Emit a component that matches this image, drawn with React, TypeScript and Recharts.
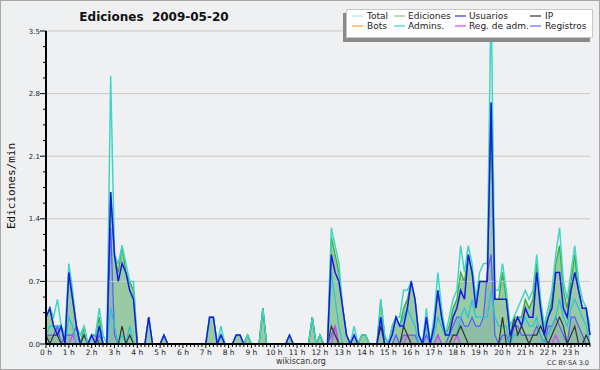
import React from 'react';
import { ComposedChart, Area, Line, XAxis, YAxis, ReferenceLine } from 'recharts';

// 10-minute bins, edits per minute (144 bins per day)
const TOTAL = [
  0.3, 0.4, 0.3, 0.5, 0.2, 0.1,
  0.9, 0.6, 0.2, 0.1, 0.2, 0.0,
  0.1, 0.1, 0.4, 0.1, 0.0, 3.0,
  1.0, 0.9, 1.1, 0.9, 0.7, 0.7,
  0.0, 0.0, 0.0, 0.3, 0.0, 0.0,
  0.0, 0.1, 0.0, 0.0, 0.0, 0.0,
  0.0, 0.0, 0.0, 0.0, 0.0, 0.0,
  0.0, 0.3, 0.3, 0.0, 0.2, 0.0,
  0.0, 0.0, 0.1, 0.1, 0.0, 0.1,
  0.0, 0.0, 0.0, 0.4, 0.0, 0.0,
  0.0, 0.0, 0.0, 0.0, 0.1, 0.0,
  0.0, 0.0, 0.0, 0.0, 0.3, 0.0,
  0.1, 0.0, 0.0, 1.3, 1.1, 0.9,
  0.4, 0.1, 0.0, 0.2, 0.0, 0.1,
  0.1, 0.0, 0.0, 0.0, 0.5, 0.1,
  0.0, 0.2, 0.3, 0.3, 0.6, 0.6,
  0.7, 0.5, 0.1, 0.0, 0.4, 0.0,
  0.3, 0.8, 0.4, 0.1, 0.3, 0.5,
  0.6, 1.1, 0.8, 1.1, 0.9, 0.5,
  0.8, 0.9, 0.9, 3.9, 0.6, 0.6,
  0.9, 0.6, 0.2, 0.3, 0.4, 0.5,
  0.6, 0.5, 0.6, 1.0, 0.5, 0.2,
  0.4, 0.6, 1.0, 1.3, 0.7, 0.5,
  0.8, 1.1, 0.7, 0.5, 0.4, 0.2,
];

const EDICIONES = [
  0.3, 0.4, 0.2, 0.2, 0.2, 0.0,
  0.8, 0.5, 0.2, 0.0, 0.2, 0.0,
  0.1, 0.1, 0.3, 0.0, 0.0, 1.7,
  1.0, 0.8, 1.1, 0.8, 0.7, 0.6,
  0.0, 0.0, 0.0, 0.3, 0.0, 0.0,
  0.0, 0.1, 0.0, 0.0, 0.0, 0.0,
  0.0, 0.0, 0.0, 0.0, 0.0, 0.0,
  0.0, 0.3, 0.3, 0.0, 0.1, 0.0,
  0.0, 0.0, 0.1, 0.1, 0.0, 0.1,
  0.0, 0.0, 0.0, 0.4, 0.0, 0.0,
  0.0, 0.0, 0.0, 0.0, 0.1, 0.0,
  0.0, 0.0, 0.0, 0.0, 0.3, 0.0,
  0.1, 0.0, 0.0, 1.2, 1.0, 0.8,
  0.4, 0.1, 0.0, 0.1, 0.0, 0.1,
  0.1, 0.0, 0.0, 0.0, 0.5, 0.1,
  0.0, 0.2, 0.3, 0.2, 0.4, 0.5,
  0.7, 0.5, 0.1, 0.0, 0.3, 0.0,
  0.2, 0.6, 0.3, 0.1, 0.2, 0.4,
  0.5, 0.8, 0.7, 1.0, 0.8, 0.5,
  0.7, 0.7, 0.7, 2.7, 0.5, 0.5,
  0.8, 0.5, 0.1, 0.3, 0.3, 0.3,
  0.5, 0.4, 0.5, 0.9, 0.4, 0.2,
  0.3, 0.5, 0.9, 1.1, 0.6, 0.4,
  0.7, 1.0, 0.6, 0.4, 0.4, 0.1,
];

const USUARIOS = [
  0.3, 0.4, 0.2, 0.1, 0.2, 0.0,
  0.8, 0.5, 0.2, 0.0, 0.0, 0.0,
  0.1, 0.0, 0.2, 0.0, 0.0, 1.7,
  1.0, 0.7, 0.9, 0.8, 0.6, 0.5,
  0.0, 0.0, 0.0, 0.3, 0.0, 0.0,
  0.0, 0.1, 0.0, 0.0, 0.0, 0.0,
  0.0, 0.0, 0.0, 0.0, 0.0, 0.0,
  0.0, 0.3, 0.3, 0.0, 0.1, 0.0,
  0.0, 0.0, 0.1, 0.1, 0.0, 0.0,
  0.0, 0.0, 0.0, 0.0, 0.0, 0.0,
  0.0, 0.0, 0.0, 0.0, 0.1, 0.0,
  0.0, 0.0, 0.0, 0.0, 0.0, 0.0,
  0.0, 0.0, 0.0, 1.0, 0.8, 0.7,
  0.4, 0.1, 0.0, 0.1, 0.0, 0.0,
  0.0, 0.0, 0.0, 0.0, 0.3, 0.0,
  0.0, 0.1, 0.3, 0.2, 0.2, 0.4,
  0.7, 0.5, 0.1, 0.0, 0.3, 0.0,
  0.2, 0.6, 0.3, 0.1, 0.1, 0.3,
  0.4, 0.6, 0.5, 1.0, 0.8, 0.4,
  0.7, 0.7, 0.7, 2.7, 0.5, 0.5,
  0.5, 0.5, 0.1, 0.2, 0.3, 0.2,
  0.4, 0.3, 0.3, 0.8, 0.4, 0.1,
  0.3, 0.4, 0.8, 0.8, 0.4, 0.3,
  0.6, 0.8, 0.6, 0.4, 0.4, 0.1,
];

const IP = [
  0.1, 0.0, 0.1, 0.1, 0.0, 0.0,
  0.0, 0.0, 0.0, 0.0, 0.1, 0.0,
  0.1, 0.1, 0.0, 0.0, 0.0, 0.0,
  0.0, 0.0, 0.2, 0.0, 0.1, 0.0,
  0.0, 0.0, 0.0, 0.0, 0.0, 0.0,
  0.0, 0.0, 0.0, 0.0, 0.0, 0.0,
  0.0, 0.0, 0.0, 0.0, 0.0, 0.0,
  0.0, 0.0, 0.0, 0.0, 0.0, 0.0,
  0.0, 0.0, 0.0, 0.0, 0.0, 0.1,
  0.0, 0.0, 0.0, 0.4, 0.0, 0.0,
  0.0, 0.0, 0.0, 0.0, 0.0, 0.0,
  0.0, 0.0, 0.0, 0.0, 0.3, 0.0,
  0.1, 0.0, 0.0, 0.2, 0.1, 0.0,
  0.0, 0.0, 0.0, 0.0, 0.0, 0.1,
  0.1, 0.0, 0.0, 0.0, 0.2, 0.0,
  0.0, 0.0, 0.0, 0.0, 0.2, 0.1,
  0.0, 0.0, 0.0, 0.0, 0.0, 0.0,
  0.0, 0.0, 0.0, 0.0, 0.0, 0.1,
  0.1, 0.2, 0.1, 0.0, 0.0, 0.0,
  0.0, 0.0, 0.0, 0.0, 0.0, 0.0,
  0.3, 0.0, 0.0, 0.3, 0.1, 0.2,
  0.1, 0.0, 0.1, 0.1, 0.2, 0.1,
  0.0, 0.1, 0.2, 0.3, 0.2, 0.0,
  0.1, 0.2, 0.0, 0.0, 0.1, 0.0,
];

const BOTS = [
  0, 0, 0, 0, 0, 0,  0, 0, 0, 0, 0, 0,  0, 0, 0, 0, 0, 0,  0, 0, 0, 0, 0, 0,
  0, 0, 0, 0, 0, 0,  0, 0, 0, 0, 0, 0,  0, 0, 0, 0, 0, 0,  0, 0, 0, 0, 0, 0,
  0, 0, 0, 0, 0, 0,  0, 0, 0, 0, 0, 0,  0, 0, 0, 0, 0, 0,  0, 0, 0, 0, 0, 0,
  0, 0, 0, 0, 0, 0,  0, 0, 0, 0, 0, 0,  0, 0, 0, 0, 0, 0,  0, 0, 0, 0, 0, 0,
  0, 0, 0, 0, 0, 0,  0, 0, 0, 0, 0, 0,  0, 0, 0, 0, 0, 0,  0, 0, 0, 0, 0, 0,
  0, 0, 0, 0, 0, 0,  0, 0, 0, 0, 0, 0,  0, 0, 0, 0, 0, 0,  0, 0, 0, 0, 0, 0,
];

const ADMINS = [
  0.1, 0.2, 0.2, 0.2, 0.2, 0.0,
  0.3, 0.2, 0.0, 0.0, 0.1, 0.0,
  0.0, 0.0, 0.2, 0.0, 0.0, 0.4,
  0.2, 0.0, 0.1, 0.0, 0.2, 0.0,
  0.0, 0.0, 0.0, 0.0, 0.0, 0.0,
  0.0, 0.0, 0.0, 0.0, 0.0, 0.0,
  0.0, 0.0, 0.0, 0.0, 0.0, 0.0,
  0.0, 0.0, 0.0, 0.0, 0.0, 0.0,
  0.0, 0.0, 0.0, 0.0, 0.0, 0.0,
  0.0, 0.0, 0.0, 0.0, 0.0, 0.0,
  0.0, 0.0, 0.0, 0.0, 0.0, 0.0,
  0.0, 0.0, 0.0, 0.0, 0.0, 0.0,
  0.0, 0.0, 0.0, 0.8, 0.5, 0.2,
  0.0, 0.0, 0.0, 0.1, 0.0, 0.0,
  0.0, 0.0, 0.0, 0.0, 0.3, 0.0,
  0.0, 0.1, 0.3, 0.2, 0.3, 0.4,
  0.3, 0.2, 0.0, 0.0, 0.2, 0.0,
  0.1, 0.3, 0.2, 0.1, 0.1, 0.1,
  0.1, 0.3, 0.4, 0.3, 0.5, 0.3,
  0.3, 0.3, 0.3, 0.6, 0.3, 0.2,
  0.2, 0.2, 0.0, 0.1, 0.1, 0.2,
  0.3, 0.2, 0.2, 0.3, 0.1, 0.0,
  0.1, 0.2, 0.3, 0.5, 0.3, 0.2,
  0.4, 0.5, 0.4, 0.3, 0.2, 0.0,
];

const REG_ADM = [
  0.0, 0.0, 0.0, 0.0, 0.0, 0.0,
  0.0, 0.1, 0.0, 0.0, 0.0, 0.0,
  0.0, 0.0, 0.0, 0.0, 0.0, 0.0,
  0.0, 0.0, 0.0, 0.0, 0.0, 0.0,
  0.0, 0.0, 0.0, 0.0, 0.0, 0.0,
  0.0, 0.0, 0.0, 0.0, 0.0, 0.0,
  0.0, 0.0, 0.0, 0.0, 0.0, 0.0,
  0.0, 0.0, 0.0, 0.0, 0.0, 0.0,
  0.0, 0.0, 0.0, 0.0, 0.0, 0.0,
  0.0, 0.0, 0.0, 0.0, 0.0, 0.0,
  0.0, 0.0, 0.0, 0.0, 0.0, 0.0,
  0.0, 0.0, 0.0, 0.0, 0.0, 0.0,
  0.0, 0.0, 0.0, 0.0, 0.2, 0.0,
  0.0, 0.0, 0.0, 0.0, 0.0, 0.0,
  0.0, 0.0, 0.0, 0.0, 0.0, 0.0,
  0.0, 0.0, 0.0, 0.0, 0.0, 0.1,
  0.0, 0.0, 0.0, 0.0, 0.0, 0.0,
  0.0, 0.1, 0.0, 0.0, 0.0, 0.0,
  0.1, 0.0, 0.0, 0.0, 0.0, 0.0,
  0.0, 0.0, 0.0, 0.0, 0.0, 0.0,
  0.0, 0.0, 0.0, 0.0, 0.0, 0.0,
  0.0, 0.0, 0.0, 0.0, 0.0, 0.0,
  0.0, 0.0, 0.1, 0.0, 0.0, 0.0,
  0.0, 0.0, 0.0, 0.0, 0.0, 0.0,
];

const REGISTROS = [
  0.1, 0.1, 0.1, 0.2, 0.0, 0.1,
  0.1, 0.1, 0.2, 0.0, 0.0, 0.0,
  0.0, 0.0, 0.1, 0.0, 0.0, 1.3,
  0.1, 0.0, 0.0, 0.0, 0.0, 0.0,
  0.0, 0.0, 0.0, 0.0, 0.0, 0.0,
  0.0, 0.0, 0.0, 0.0, 0.0, 0.0,
  0.0, 0.0, 0.0, 0.0, 0.0, 0.0,
  0.0, 0.0, 0.0, 0.0, 0.0, 0.0,
  0.0, 0.0, 0.0, 0.0, 0.0, 0.0,
  0.0, 0.0, 0.0, 0.0, 0.0, 0.0,
  0.0, 0.0, 0.0, 0.0, 0.0, 0.0,
  0.0, 0.0, 0.0, 0.0, 0.0, 0.0,
  0.0, 0.0, 0.0, 0.1, 0.2, 0.0,
  0.0, 0.0, 0.0, 0.0, 0.0, 0.0,
  0.0, 0.0, 0.0, 0.0, 0.0, 0.0,
  0.0, 0.0, 0.1, 0.0, 0.1, 0.1,
  0.1, 0.1, 0.0, 0.0, 0.1, 0.0,
  0.0, 0.1, 0.0, 0.0, 0.1, 0.2,
  0.3, 0.3, 0.2, 0.2, 0.3, 0.2,
  0.2, 0.3, 0.8, 1.0, 0.1, 0.0,
  0.1, 0.1, 0.0, 0.2, 0.2, 0.1,
  0.1, 0.1, 0.1, 0.2, 0.1, 0.0,
  0.2, 0.2, 0.3, 0.2, 0.1, 0.0,
  0.3, 0.3, 0.2, 0.1, 0.0, 0.0,
];

const HOUR_LABELS = [
  '0 h', '1 h', '2 h', '3 h', '4 h', '5 h', '6 h', '7 h', '8 h', '9 h', '10 h', '11 h',
  '12 h', '13 h', '14 h', '15 h', '16 h', '17 h', '18 h', '19 h', '20 h', '21 h', '22 h', '23 h',
];

const Y_TICKS = [
  0, 0.175, 0.35, 0.525, 0.7, 0.875, 1.05, 1.225, 1.4, 1.575, 1.75, 1.925,
  2.1, 2.275, 2.45, 2.625, 2.8, 2.975, 3.15, 3.325, 3.5,
];
const Y_MAJOR = [0, 0.7, 1.4, 2.1, 2.8, 3.5];
const GRID_Y = [0.7, 1.4, 2.1, 2.8, 3.5];

const COLORS = {
  total: '#3fd6c6',
  ediciones: '#35b035',
  edicionesFill: '#2f9e3f',
  usuarios: '#1818e8',
  ip: '#333333',
  bots: '#ff9a1a',
  admins: '#22c4dc',
  regadm: '#dd40ee',
  registros: '#5a5aff',
};

const LEGEND_ROWS = [
  [
    { name: 'Total', color: '#a6ecdf' },
    { name: 'Ediciones', color: '#7ad07a' },
    { name: 'Usuarios', color: '#3030f0' },
    { name: 'IP', color: '#333333' },
  ],
  [
    { name: 'Bots', color: '#ffa030' },
    { name: 'Admins.', color: '#30d0e0' },
    { name: 'Reg. de adm.', color: '#e040f0' },
    { name: 'Registros', color: '#6868ff' },
  ],
];
const LEGEND_LINE_X = [352, 394, 455, 530];
const LEGEND_TEXT_X = [367, 408, 469, 545];
const LEGEND_ROW_Y = [19, 29];

const data = TOTAL.map((v, i) => ({
  i,
  total: v,
  ediciones: EDICIONES[i],
  usuarios: USUARIOS[i],
  ip: IP[i],
  bots: BOTS[i],
  admins: ADMINS[i],
  regadm: REG_ADM[i],
  registros: REGISTROS[i],
}));

const X_TICKS = data.map((d) => d.i);

const FONT = 'DejaVu Sans, Verdana, sans-serif';

const YTick = (props: any) => {
  const { x, y, payload } = props;
  const v = payload.value as number;
  const major = Y_MAJOR.some((m) => Math.abs(m - v) < 1e-6);
  return (
    <g>
      <line x1={x - (major ? 6 : 3)} x2={x} y1={y} y2={y} stroke="#000" strokeWidth={1} />
      {major && (
        <text x={x - 6} y={y + 2.5} textAnchor="end" fontSize={7} fontFamily={FONT} fill="#222">
          {v.toFixed(1)}
        </text>
      )}
    </g>
  );
};

const XTick = (props: any) => {
  const { x, y, payload } = props;
  const i = payload.value as number;
  const hour = i % 6 === 0;
  return (
    <g>
      <line x1={x} x2={x} y1={y} y2={y + (hour ? 4 : 3)} stroke="#000" strokeWidth={1} />
      {hour && (
        <text x={x} y={y + 11} textAnchor="middle" fontSize={7.5} fontFamily={FONT} fill="#222">
          {HOUR_LABELS[i / 6]}
        </text>
      )}
    </g>
  );
};

export default function App() {
  return (
    <div style={{ position: 'absolute', left: 0, top: 0, width: 600, height: 370, background: '#eff0f2', overflow: 'hidden' }}>
      <div style={{ position: 'absolute', left: 0, top: 0 }}>
        <ComposedChart width={600} height={370} data={data} margin={{ top: 31, right: 10, bottom: 0, left: 0 }}>
          {GRID_Y.map((g) => (
            <ReferenceLine key={g} y={g} stroke="#c9c9c9" strokeWidth={1} ifOverflow="extendDomain" />
          ))}
          <XAxis
            dataKey="i"
            type="number"
            domain={[0, 143]}
            ticks={X_TICKS}
            interval={0}
            tickSize={0}
            tickMargin={0}
            height={26}
            tick={<XTick />}
            axisLine={{ stroke: '#000', strokeWidth: 2 }}
            tickLine={false}
            allowDecimals={false}
          />
          <YAxis
            type="number"
            domain={[0, 3.5]}
            ticks={Y_TICKS}
            interval={0}
            allowDataOverflow
            width={46}
            tickSize={0}
            tickMargin={0}
            tick={<YTick />}
            axisLine={{ stroke: '#000', strokeWidth: 2 }}
            tickLine={false}
          />
          <Area
            type="linear"
            dataKey="ediciones"
            stroke={COLORS.ediciones}
            strokeWidth={1.3}
            fill={COLORS.edicionesFill}
            fillOpacity={0.45}
            dot={false}
            activeDot={false}
            isAnimationActive={false}
          />
          <Area
            type="linear"
            dataKey="registros"
            stroke={COLORS.registros}
            strokeWidth={1.2}
            fill="#4a5ad0"
            fillOpacity={0.12}
            dot={false}
            activeDot={false}
            isAnimationActive={false}
          />
          <Line type="linear" dataKey="bots" stroke={COLORS.bots} strokeWidth={1.2} dot={false} activeDot={false} isAnimationActive={false} />
          <Line type="linear" dataKey="regadm" stroke={COLORS.regadm} strokeWidth={1.2} dot={false} activeDot={false} isAnimationActive={false} />
          <Line type="linear" dataKey="admins" stroke={COLORS.admins} strokeWidth={1.2} dot={false} activeDot={false} isAnimationActive={false} />
          <Line type="linear" dataKey="ip" stroke={COLORS.ip} strokeWidth={1.2} dot={false} activeDot={false} isAnimationActive={false} />
          <Line type="linear" dataKey="total" stroke={COLORS.total} strokeWidth={1.5} dot={false} activeDot={false} isAnimationActive={false} />
          <Line type="linear" dataKey="usuarios" stroke={COLORS.usuarios} strokeWidth={1.5} dot={false} activeDot={false} isAnimationActive={false} />
        </ComposedChart>
      </div>
      <svg width={600} height={370} style={{ position: 'absolute', left: 0, top: 0, pointerEvents: 'none' }}>
        <text
          x={154}
          y={21}
          textAnchor="middle"
          fontSize={12}
          fontWeight="bold"
          fontFamily={FONT}
          fill="#111"
          style={{ whiteSpace: 'pre' }}
          xmlSpace="preserve"
        >
          {'Ediciones  2009-05-20'}
        </text>
        <text
          x={0}
          y={0}
          transform="translate(15,186) rotate(-90)"
          textAnchor="middle"
          fontSize={11}
          fontFamily="DejaVu Sans Mono, monospace"
          fill="#111"
        >
          Ediciones/min
        </text>
        <text x={301} y={364} textAnchor="middle" fontSize={8} fontFamily={FONT} fill="#333">
          wikiscan.org
        </text>
        <text x={589} y={365} textAnchor="end" fontSize={6.5} fontFamily={FONT} fill="#333">
          CC BY-SA 3.0
        </text>
        {/* legend */}
        <rect x={343} y={13} width={247} height={29} fill="#8a8a8a" />
        <rect x={346.5} y={9.5} width={246} height={28} fill="#ffffff" stroke="#c8c8c8" strokeWidth={1} />
        {LEGEND_ROWS.map((row, r) =>
          row.map((item, c) => (
            <g key={`${r}-${c}`}>
              <line
                x1={LEGEND_LINE_X[c]}
                x2={LEGEND_LINE_X[c] + 11}
                y1={LEGEND_ROW_Y[r] - 3}
                y2={LEGEND_ROW_Y[r] - 3}
                stroke={item.color}
                strokeWidth={1.2}
              />
              <text x={LEGEND_TEXT_X[c]} y={LEGEND_ROW_Y[r]} fontSize={9} fontFamily={FONT} fill="#222">
                {item.name}
              </text>
            </g>
          ))
        )}
      </svg>
      <div style={{ position: 'absolute', left: 0, top: 0, width: 600, height: 370, boxSizing: 'border-box', border: '1px solid #a8a8a8', pointerEvents: 'none' }} />
    </div>
  );
}
